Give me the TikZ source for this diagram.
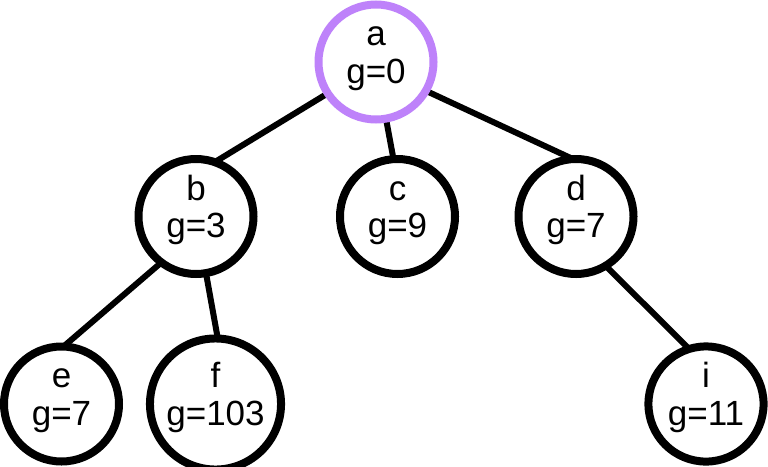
\documentclass[tikz,border=0pt]{standalone}
\usepackage{fontspec}
\setmainfont{Liberation Sans}
\usetikzlibrary{backgrounds}
\definecolor{rootpurple}{RGB}{190,130,250}
\tikzset{
  treenode/.style={circle, draw=black, line width=8pt, fill=white, minimum size=115pt,
    inner sep=0pt, outer sep=0pt, align=center, font=\fontsize{35}{37.4}\selectfont},
  rootnode/.style={treenode, draw=rootpurple},
  treeedge/.style={line width=6pt, draw=black},
}
\newcommand{\twoline}[2]{\rule{0pt}{27pt}#1\\#2\rule[-22.4pt]{0pt}{22.4pt}}
\begin{document}
\begin{tikzpicture}[x=1pt,y=-1pt]
\useasboundingbox (0,0) rectangle (768,466);
\node[rootnode] (a) at (376,62) {\twoline{a}{g=0}};
\node[treenode] (b) at (196,216.5) {\twoline{b}{g=3}};
\node[treenode] (c) at (397.5,216.5) {\twoline{c}{g=9}};
\node[treenode] (d) at (576,216.5) {\twoline{d}{g=7}};
\node[treenode] (e) at (61.5,404) {\twoline{e}{g=7}};
\node[treenode] (f) at (215.5,404) {\twoline{f}{g=103}};
\node[treenode] (i) at (706,404) {\twoline{i}{g=11}};
\begin{pgfonlayer}{background}
\draw[treeedge] (a.213.4) -- (b.71.4);
\draw[treeedge] (a.280) -- (c.94);
\draw[treeedge] (a.330) -- (d.93);
\draw[treeedge] (b.233) -- (e.88.6);
\draw[treeedge] (b.280) -- (f.88.6);
\draw[treeedge] (d.301) -- (i.107);
\end{pgfonlayer}
\end{tikzpicture}
\end{document}
